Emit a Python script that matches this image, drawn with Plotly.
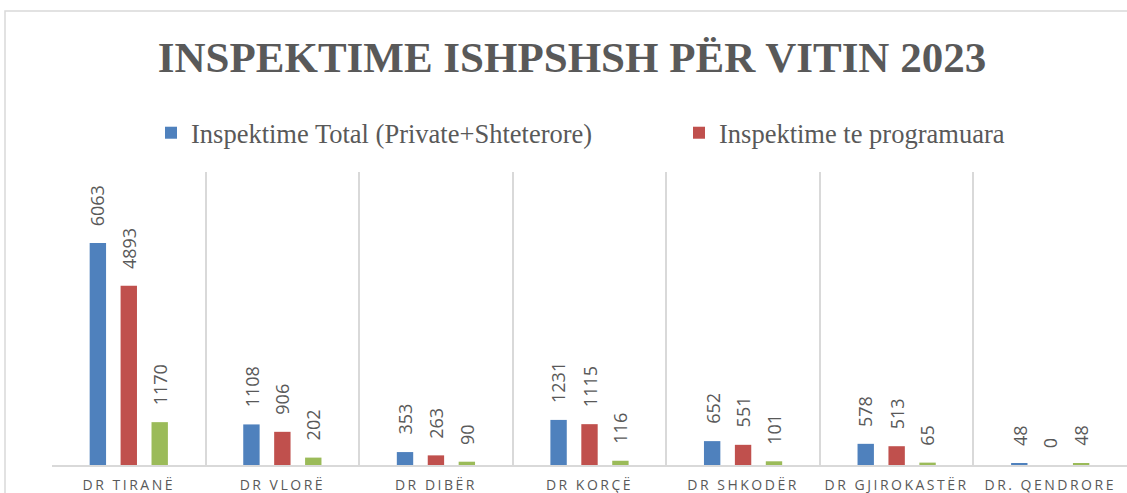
import plotly.graph_objects as go

categories = ["DR TIRANË", "DR VLORË", "DR DIBËR", "DR KORÇË", "DR SHKODËR", "DR GJIROKASTËR", "DR. QENDRORE"]
total = [6063, 1108, 353, 1231, 652, 578, 48]
programmed = [4893, 906, 263, 1115, 551, 513, 0]
unprogrammed = [1170, 202, 90, 116, 101, 65, 48]

series = [
    ("Inspektime Total (Private+Shteterore)", total, "#4F81BD", True),
    ("Inspektime te programuara", programmed, "#C0504D", True),
    ("Inspektime te paprogramuara", unprogrammed, "#9BBB59", False),
]

W, H = 1127, 493
L, R, T, B = 52, 0, 172, 28
pw, ph = W - L - R, H - T - B
BARGAP, GROUPGAP = 0.396, 0.47
slot_px = pw / len(categories) * (1 - BARGAP) / len(series)

fig = go.Figure()
annotations = []
for i, (name, vals, color, show) in enumerate(series):
    fig.add_trace(go.Bar(
        x=categories, y=vals, name=name, marker_color=color,
        marker_line_width=0, showlegend=show,
    ))
    shift = (i - (len(series) - 1) / 2) * slot_px
    for c, v in zip(categories, vals):
        annotations.append(dict(
            x=c, y=v, xref="x", yref="y", text=str(v), showarrow=False,
            textangle=-90, xanchor="center", yanchor="bottom",
            xshift=shift, yshift=15,
            font=dict(family="Open Sans, Liberation Sans, sans-serif", size=18, color="#595959"),
        ))

tick_text = ['<span style="letter-spacing:2.5px">%s</span>' % c for c in categories]

fig.update_layout(
    width=W, height=H,
    margin=dict(l=L, r=R, t=T, b=B),
    paper_bgcolor="white", plot_bgcolor="white",
    barmode="group", bargap=BARGAP, bargroupgap=GROUPGAP,
    title=dict(
        text="<b>INSPEKTIME ISHPSHSH PËR VITIN 2023</b>",
        font=dict(family="Liberation Serif, Times New Roman, serif", size=43, color="#595959"),
        x=572 / W, xref="container", xanchor="center",
        y=1 - 57 / H, yref="container", yanchor="middle",
    ),
    legend=dict(
        orientation="h", xref="container", yref="container",
        x=151 / W, xanchor="left", y=1 - 133 / H, yanchor="middle",
        font=dict(family="Liberation Serif, Times New Roman, serif", size=26.5, color="#595959"),
        entrywidth=483, entrywidthmode="pixels",
        bgcolor="rgba(0,0,0,0)",
    ),
    xaxis=dict(
        type="category", showline=True, linecolor="#d9d9d9", linewidth=1.5,
        showgrid=True, gridcolor="#d9d9d9", gridwidth=1.5, tickson="boundaries",
        ticks="", ticklabelstandoff=6,
        tickmode="array", tickvals=categories, ticktext=tick_text,
        tickfont=dict(family="Open Sans, Liberation Sans, sans-serif", size=14, color="#595959"),
    ),
    yaxis=dict(range=[0, 8000], showticklabels=False, showgrid=False, zeroline=False, showline=False),
    annotations=annotations,
    shapes=[dict(
        type="rect", xref="paper", yref="paper",
        x0=(5 - L) / pw, x1=(W + 20 - L) / pw,
        y0=(T + ph - (H + 20)) / ph, y1=(T + ph - 11) / ph,
        line=dict(color="#d9d9d9", width=1.5), fillcolor="rgba(0,0,0,0)", layer="below",
    )],
)

fig.write_html("out.html", config={"displayModeBar": False},
               post_script="document.body.style.margin='0';")
